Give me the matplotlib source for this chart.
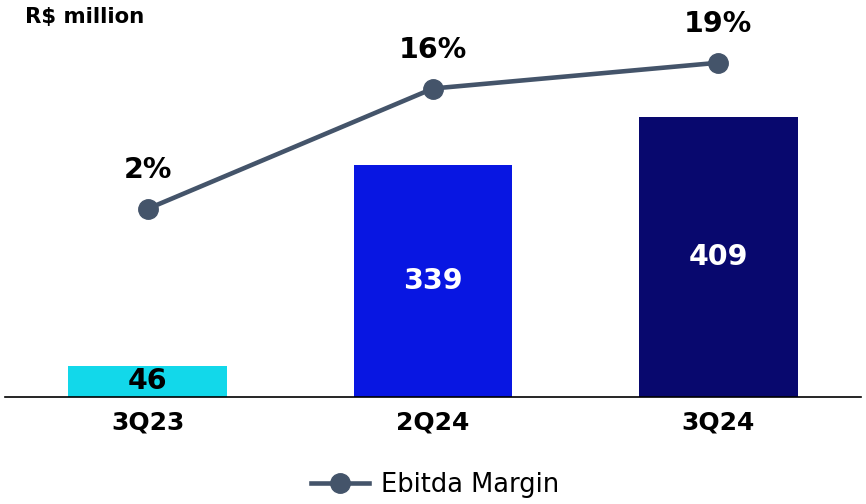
import matplotlib
matplotlib.use("Agg")
import matplotlib.pyplot as plt
from matplotlib.lines import Line2D

quarters = ["3Q23", "2Q24", "3Q24"]
ebitda = [46, 339, 409]
margin = [2, 16, 19]

bar_colors = ["#12D8EA", "#0816E2", "#08086E"]
label_colors = ["black", "white", "white"]
line_color = "#44546A"

plt.rcParams['font.family'] = ['DejaVu Sans']

fig = plt.figure(figsize=(8.66, 5.04), dpi=100)
ax = fig.add_axes([5 / 866, 107 / 504, 856 / 866, 397 / 504])

x = list(range(len(quarters)))
ax.bar(x, ebitda, width=0.557, color=bar_colors, zorder=2)
for xi, v, c in zip(x, ebitda, label_colors):
    ax.text(xi, v / 2, str(v), ha="center", va="center",
            fontsize=20.5, fontweight="bold", color=c)

ax.set_xlim(-0.5, 2.5)
ax.set_ylim(0, 580)
ax.set_xticks(x)
ax.set_xticklabels(quarters, fontsize=18, fontweight="bold")
ax.tick_params(axis="x", length=0, pad=10)
ax.set_yticks([])
for s in ["top", "right", "left"]:
    ax.spines[s].set_visible(False)
ax.spines["bottom"].set_linewidth(1.2)

ax2 = ax.twinx()
ax2.plot(x, margin, color=line_color, lw=3.3, marker="o", ms=14, zorder=3)
for xi, m in zip(x, margin):
    ax2.annotate(f"{m}%", (xi, m), xytext=(0, 28), textcoords="offset points",
                 ha="center", va="center", fontsize=20.5, fontweight="bold")
ax2.set_ylim(-19.9, 26.3)
ax2.set_yticks([])
for s in ax2.spines.values():
    s.set_visible(False)

fig.text(25 / 866, 1 - 17 / 504, "R$ million", fontsize=15.3, fontweight="bold",
         ha="left", va="center")

handle = Line2D([], [], color=line_color, lw=3.3, marker="o", ms=14)
fig.legend([handle], ["Ebitda Margin"], loc="center", bbox_to_anchor=(435 / 866, 1 - 485 / 504),
           frameon=False, fontsize=18.5, handlelength=2.26, handletextpad=0.47)

fig.savefig("out.png", dpi=100)
